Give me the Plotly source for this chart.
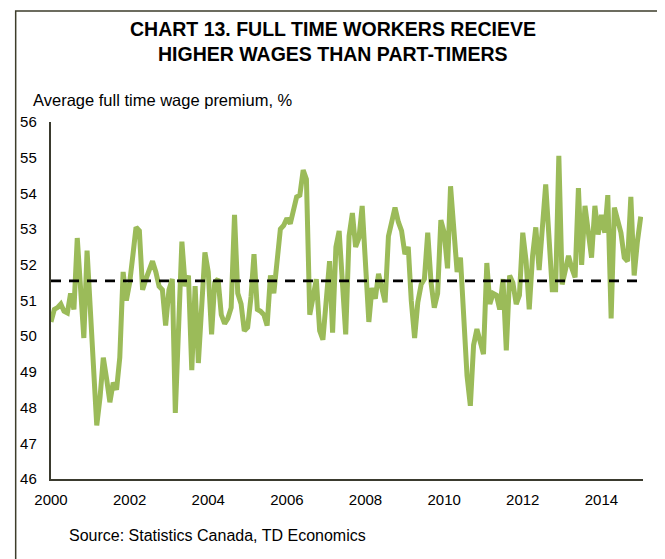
import plotly.graph_objects as go
import pandas as pd

# Monthly average full-time wage premium (%), Jan 2000 - Jan 2015
premium = [
    50.4, 50.75, 50.8, 50.9, 50.7, 50.65, 51.2, 50.75, 52.75, 51.3, 49.95, 52.4,   # 2000
    50.8, 49.3, 47.5, 48.3, 49.4, 48.8, 48.15, 48.7, 48.5, 49.4, 51.8, 51.0,       # 2001
    51.5, 52.3, 53.05, 52.95, 51.3, 51.6, 51.9, 52.1, 51.8, 51.4, 51.3, 50.3,      # 2002
    51.3, 51.6, 47.85, 50.5, 52.65, 51.4, 51.7, 49.05, 51.4, 49.25, 51.0, 52.35,   # 2003
    51.8, 50.05, 51.5, 51.6, 50.6, 50.35, 50.5, 50.8, 53.4, 51.2, 50.9, 50.15,     # 2004
    50.25, 51.1, 52.3, 50.75, 50.7, 50.6, 50.3, 51.7, 51.2, 52.2, 53.0, 53.1,      # 2005
    53.3, 53.15, 53.45, 53.9, 53.95, 54.65, 54.4, 50.6, 51.1, 51.6, 50.15, 49.9,   # 2006
    51.0, 52.1, 50.1, 52.5, 52.95, 51.3, 50.05, 52.8, 53.45, 52.5, 52.75, 53.65,   # 2007
    52.1, 50.4, 51.35, 51.05, 51.75, 51.35, 50.95, 52.8, 53.25, 53.6, 53.2, 52.95, # 2008
    52.3, 52.5, 51.0, 49.95, 50.95, 51.45, 51.6, 52.9, 51.5, 50.8, 51.2, 53.25,    # 2009
    52.9, 51.9, 54.2, 52.95, 51.8, 52.2, 50.5, 48.9, 48.05, 49.75, 50.2, 49.85,    # 2010
    49.5, 52.05, 50.9, 51.2, 51.15, 50.75, 51.6, 49.6, 51.7, 51.5, 50.9, 51.15,    # 2011
    52.9, 52.1, 50.75, 52.25, 53.05, 51.85, 53.2, 54.25, 52.75, 51.3, 51.3, 55.05, # 2012
    51.45, 51.9, 52.25, 51.9, 51.65, 54.15, 52.0, 53.65, 52.9, 52.2, 53.65, 52.85, # 2013
    53.4, 52.9, 53.95, 50.5, 53.6, 53.3, 52.9, 52.2, 52.1, 53.9, 51.7, 52.65,      # 2014
    53.35,                                                                          # 2015
]
average_premium = 51.55
start_month = "2000-01-01"
x_tick_labels = ["2000", "2002", "2004", "2006", "2008", "2010", "2012", "2014"]
y_tick_values = list(range(46, 57))

title_line1 = "CHART 13. FULL TIME WORKERS RECIEVE"
title_line2 = "HIGHER WAGES THAN PART-TIMERS"
y_title = "Average full time wage premium, %"
source_text = "Source: Statistics Canada, TD Economics"

dates = pd.date_range(start_month, periods=len(premium), freq="MS")
tick_dates = [f"{y}-01-01" for y in x_tick_labels]

# The page body adds an 8px margin; size and place the figure to compensate.
OFF = 8
W, H = 665 - OFF, 559 - OFF
ML, MT = 48 - OFF, 122 - OFF
MR = W - (643 - OFF)
MB = H - (479 - OFF)
PW, PH = W - ML - MR, H - MT - MB


def px_x(x):
    return (x - OFF - ML) / PW


def px_y(y):
    return (H - MB - (y - OFF)) / PH


FONT = "Liberation Sans, Arial, sans-serif"

fig = go.Figure()
fig.add_trace(go.Scatter(
    x=dates, y=premium, mode="lines",
    line=dict(color="#9BBB59", width=5),
    hoverinfo="x+y", showlegend=False,
))
fig.add_trace(go.Scatter(
    x=[dates[0], dates[-1]], y=[average_premium, average_premium], mode="lines",
    line=dict(color="#000000", width=2.6, dash="10px,8px"),
    showlegend=False,
))

fig.update_layout(
    width=W, height=H,
    margin=dict(l=ML, r=MR, t=MT, b=MB, pad=0),
    paper_bgcolor="white", plot_bgcolor="white",
    font=dict(family=FONT, color="#000000"),
    xaxis=dict(
        type="date",
        range=["2000-01-01", "2015-01-22"],
        tickvals=tick_dates, ticktext=x_tick_labels,
        ticks="outside", ticklen=6, tickcolor="rgba(0,0,0,0)",
        tickfont=dict(size=15, family=FONT),
        showgrid=False, zeroline=False,
        showline=True, linecolor="#3a3a2e", linewidth=1.5,
    ),
    yaxis=dict(
        range=[46, 56],
        tickvals=y_tick_values,
        ticks="outside", ticklen=9.5, tickcolor="rgba(0,0,0,0)",
        tickfont=dict(size=15, family=FONT),
        showgrid=False, zeroline=False,
        showline=True, linecolor="#3a3a2e", linewidth=1.5,
    ),
    shapes=[dict(
        type="rect", xref="paper", yref="paper",
        x0=px_x(12.5), x1=px_x(700), y0=px_y(620), y1=px_y(11),
        line=dict(color="#3d3d2b", width=1.5), fillcolor="rgba(0,0,0,0)",
        layer="below",
    )],
    annotations=[
        dict(text=f"<b>{title_line1}</b>", xref="paper", yref="paper",
             x=px_x(331), y=px_y(28.5), xanchor="center", yanchor="middle",
             showarrow=False, font=dict(size=19.5, family=FONT)),
        dict(text=f"<b>{title_line2}</b>", xref="paper", yref="paper",
             x=px_x(331), y=px_y(53.5), xanchor="center", yanchor="middle",
             showarrow=False, font=dict(size=19.5, family=FONT)),
        dict(text=y_title, xref="paper", yref="paper",
             x=px_x(28), y=px_y(100), xanchor="left", yanchor="middle",
             showarrow=False, font=dict(size=16.5, family=FONT)),
        dict(text=source_text, xref="paper", yref="paper",
             x=px_x(64), y=px_y(535), xanchor="left", yanchor="middle",
             showarrow=False, font=dict(size=16, family=FONT)),
    ],
)

fig.write_html("out.html")
